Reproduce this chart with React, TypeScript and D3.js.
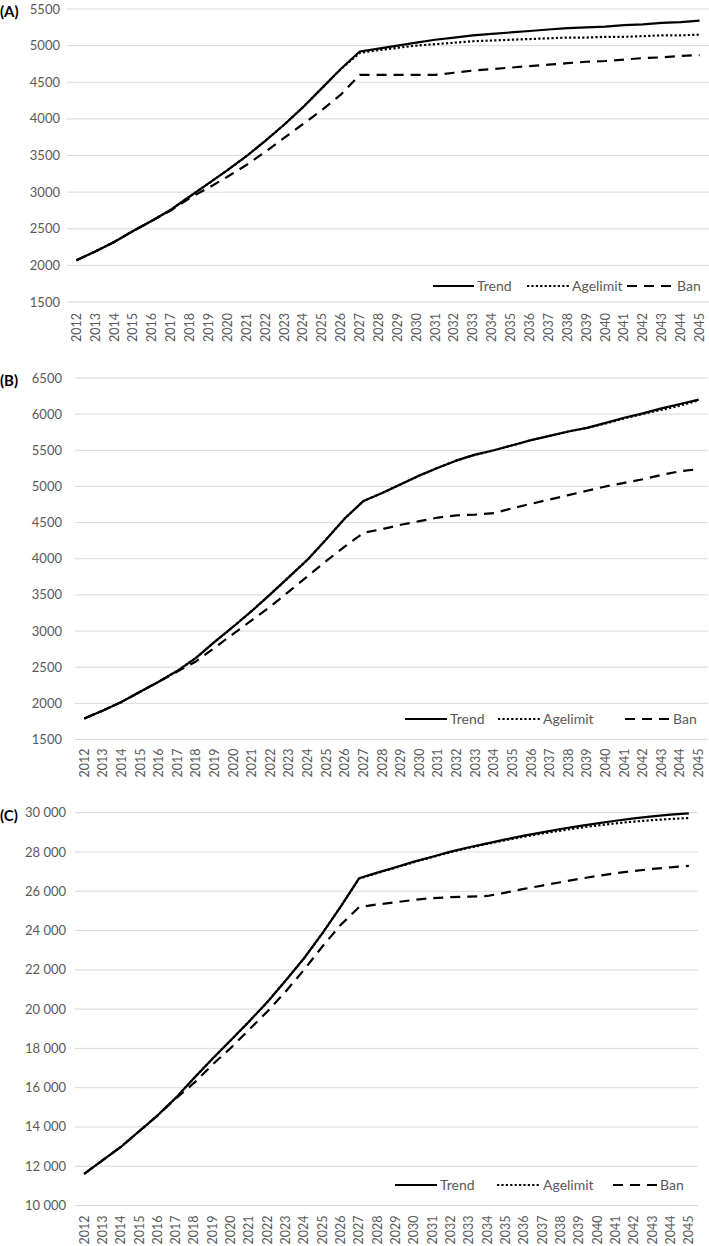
import React from 'react';
import * as d3 from 'd3';

const years = ['2012', '2013', '2014', '2015', '2016', '2017', '2018', '2019', '2020', '2021', '2022', '2023',
  '2024', '2025', '2026', '2027', '2028', '2029', '2030', '2031', '2032', '2033', '2034', '2035', '2036',
  '2037', '2038', '2039', '2040', '2041', '2042', '2043', '2044', '2045'];

const trendA = [2070, 2190, 2320, 2470, 2610, 2760, 2940, 3120, 3300, 3490, 3700, 3920, 4160, 4420, 4680, 4920,
  4960, 5000, 5040, 5080, 5110, 5140, 5160, 5180, 5200, 5220, 5240, 5250, 5260, 5280, 5290, 5310, 5320, 5340];
const ageA = [2070, 2190, 2320, 2470, 2610, 2760, 2940, 3120, 3300, 3490, 3700, 3920, 4160, 4420, 4680, 4900,
  4940, 4970, 5000, 5020, 5040, 5060, 5070, 5080, 5090, 5100, 5110, 5110, 5120, 5120, 5130, 5140, 5140, 5150];
const banA = [2070, 2190, 2320, 2470, 2610, 2750, 2920, 3060, 3210, 3370, 3550, 3740, 3930, 4120, 4330, 4600,
  4600, 4600, 4600, 4600, 4630, 4660, 4680, 4700, 4720, 4740, 4760, 4780, 4790, 4810, 4830, 4840, 4860, 4870];
const ticksA = [1500, 2000, 2500, 3000, 3500, 4000, 4500, 5000, 5500];

const trendB = [1790, 1900, 2020, 2160, 2300, 2450, 2630, 2850, 3060, 3280, 3510, 3750, 3990, 4270, 4560, 4800,
  4910, 5030, 5150, 5260, 5360, 5440, 5500, 5570, 5640, 5700, 5760, 5810, 5880, 5950, 6010, 6080, 6140, 6200];
const ageB = [1790, 1900, 2020, 2160, 2300, 2450, 2630, 2850, 3060, 3280, 3510, 3750, 3990, 4270, 4560, 4800,
  4910, 5030, 5150, 5260, 5360, 5440, 5500, 5570, 5640, 5700, 5760, 5810, 5870, 5940, 6000, 6060, 6120, 6190];
const banB = [1790, 1900, 2020, 2160, 2300, 2440, 2580, 2770, 2960, 3150, 3340, 3550, 3760, 3970, 4170, 4360,
  4410, 4470, 4520, 4570, 4600, 4610, 4630, 4700, 4760, 4820, 4880, 4940, 5000, 5050, 5100, 5160, 5210, 5240];
const ticksB = [1500, 2000, 2500, 3000, 3500, 4000, 4500, 5000, 5500, 6000, 6500];

const trendC = [11610, 12300, 12980, 13780, 14580, 15480, 16490, 17470, 18410, 19370, 20360, 21460, 22590, 23860,
  25220, 26660, 26950, 27220, 27510, 27760, 28020, 28240, 28440, 28640, 28830, 29000, 29170, 29320, 29460, 29590,
  29710, 29810, 29900, 29970];
const ageC = [11610, 12300, 12980, 13780, 14580, 15480, 16490, 17470, 18410, 19370, 20360, 21460, 22590, 23860,
  25220, 26640, 26930, 27200, 27480, 27740, 27990, 28210, 28410, 28600, 28780, 28940, 29090, 29230, 29350, 29460,
  29550, 29620, 29680, 29730];
const banC = [11610, 12300, 12980, 13780, 14580, 15450, 16240, 17170, 18020, 18950, 19880, 20900, 22000, 23190,
  24290, 25190, 25330, 25440, 25560, 25650, 25700, 25730, 25760, 25930, 26120, 26290, 26460, 26630, 26780, 26920,
  27030, 27140, 27220, 27290];
const ticksC = [10000, 12000, 14000, 16000, 18000, 20000, 22000, 24000, 26000, 28000, 30000];

const seriesNames = ['Trend', 'Agelimit', 'Ban'];
const seriesDash = [null, '2.2,2.2', '10,7'];

const spaced = d3.formatLocale({ decimal: '.', thousands: '\u00a0', grouping: [3], currency: ['', ''] }).format(',');
const plain = d3.format('d');

const panels = [
  { label: '(A)', series: [trendA, ageA, banA], ticks: ticksA, fmt: plain,
    left: 67, right: 709, top: 9, bottom: 302, tickRight: 60, legendY: 286, xGap: 11,
    legend: [[433, 477], [527, 572], [627, 677]] },
  { label: '(B)', series: [trendB, ageB, banB], ticks: ticksB, fmt: plain,
    left: 75, right: 708, top: 378, bottom: 739.5, tickRight: 62, legendY: 719, xGap: 9,
    legend: [[405, 450], [498, 543], [625, 673]] },
  { label: '(C)', series: [trendC, ageC, banC], ticks: ticksC, fmt: spaced,
    left: 75, right: 698, top: 812.7, bottom: 1205.5, tickRight: 66, legendY: 1185, xGap: 10,
    legend: [[395, 440], [497, 543], [613, 660]] },
];

const font = 'Lato, "Open Sans", sans-serif';
const grey = '#595959';

function Panel({ p }) {
  const x = d3.scaleBand().domain(years).range([p.left, p.right]).padding(0);
  const y = d3.scaleLinear().domain([p.ticks[0], p.ticks[p.ticks.length - 1]]).range([p.bottom, p.top]);
  const cx = (yr) => x(yr) + x.bandwidth() / 2;
  const line = d3.line<number>().x((d, i) => cx(years[i])).y(d => y(d));

  return (
    <g>
      {p.ticks.map(t => (
        <g key={t}>
          <line x1={p.left} x2={p.right} y1={y(t)} y2={y(t)} stroke="#d9d9d9" strokeWidth={1} />
          <text x={p.tickRight} y={y(t)} dy="0.35em" textAnchor="end" fontSize={13} fill={grey}
            fontFamily={font}>{p.fmt(t)}</text>
        </g>
      ))}
      <text x={0} y={y(p.ticks[p.ticks.length - 1]) + 3} dy="0.35em" fontSize={15} fontWeight="bold"
        fill="#000" fontFamily={font}>{p.label}</text>
      {years.map(yr => (
        <text key={yr} transform={`translate(${cx(yr)},${p.bottom + p.xGap}) rotate(-90)`} dy="0.35em"
          textAnchor="end" fontSize={12.5} fill={grey} fontFamily={font}>{yr}</text>
      ))}
      {p.series.map((s, i) => (
        <path key={i} d={line(s)} fill="none" stroke="#000" strokeWidth={2.2}
          strokeDasharray={seriesDash[i] || undefined} strokeLinejoin="round" />
      ))}
      {seriesNames.map((name, i) => (
        <g key={name}>
          <line x1={p.legend[i][0]} x2={p.legend[i][1] - 3} y1={p.legendY} y2={p.legendY} stroke="#000"
            strokeWidth={2.2} strokeDasharray={seriesDash[i] || undefined} />
          <text x={p.legend[i][1]} y={p.legendY} dy="0.35em" fontSize={14} fill={grey}
            fontFamily={font}>{name}</text>
        </g>
      ))}
    </g>
  );
}

export default function App() {
  return (
    <svg width={709} height={1246} style={{ position: 'absolute', left: 0, top: 0, background: '#fff' }}>
      {panels.map(p => <Panel key={p.label} p={p} />)}
    </svg>
  );
}
